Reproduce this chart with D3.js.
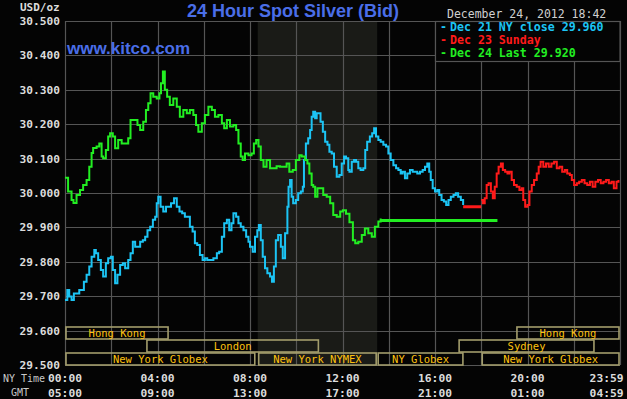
<!DOCTYPE html>
<html>
<head>
<meta charset="utf-8">
<script src="https://cdn.jsdelivr.net/npm/d3@7"></script>
<style>
  html, body { margin: 0; padding: 0; background: #040404; }
  svg { display: block; }
</style>
</head>
<body>
<svg></svg>
<script>

// minutes after 00:00 NY time, price in USD/oz
const dec21 = [
  [0,29.689],[6,29.718],[11,29.699],[17,29.689],[23,29.708],[30,29.708],[37,29.718],[43,29.718],
  [49,29.742],[56,29.762],[63,29.786],[69,29.815],[76,29.834],[80,29.825],[86,29.805],[93,29.776],
  [99,29.757],[106,29.796],[112,29.810],[119,29.815],[124,29.776],[130,29.738],[136,29.762],[143,29.791],
  [150,29.796],[156,29.781],[164,29.805],[170,29.825],[176,29.858],[182,29.844],[188,29.844],[195,29.858],
  [202,29.863],[208,29.873],[214,29.892],[221,29.902],[228,29.922],[234,29.931],[238,29.970],[242,29.989],
  [248,29.960],[255,29.946],[262,29.960],[268,29.960],[275,29.970],[283,29.985],[290,29.960],[297,29.946],
  [304,29.941],[311,29.931],[317,29.931],[324,29.902],[331,29.888],[337,29.854],[343,29.849],[350,29.820],
  [357,29.805],[363,29.810],[369,29.805],[376,29.805],[385,29.810],[394,29.825],[400,29.829],[407,29.873],
  [413,29.912],[420,29.922],[426,29.892],[432,29.912],[437,29.941],[444,29.931],[450,29.912],[456,29.902],
  [463,29.892],[470,29.873],[476,29.858],[480,29.844],[487,29.829],[493,29.873],[499,29.892],[503,29.907],
  [508,29.863],[513,29.815],[519,29.781],[525,29.767],[532,29.757],[537,29.742],[542,29.786],[547,29.863],
  [553,29.878],[560,29.844],[565,29.810],[571,29.883],[577,29.960],[580,30.018],[584,30.038],[588,29.989],
  [592,29.970],[599,29.980],[605,29.999],[612,30.004],[617,30.018],[620,30.096],[625,30.144],[631,30.159],
  [636,30.183],[640,30.222],[644,30.236],[649,30.217],[653,30.232],[658,30.232],[663,30.207],[669,30.178],
  [675,30.149],[681,30.140],[686,30.120],[692,30.115],[698,30.076],[705,30.047],[712,30.052],[718,30.086],
  [724,30.106],[729,30.101],[735,30.067],[738,30.062],[744,30.091],[750,30.096],[755,30.091],[761,30.072],
  [767,30.067],[774,30.072],[779,30.125],[784,30.149],[791,30.164],[797,30.174],[802,30.188],[807,30.164],
  [813,30.154],[819,30.149],[826,30.140],[833,30.135],[839,30.115],[845,30.096],[852,30.081],[859,30.072],
  [865,30.067],[871,30.057],[876,30.062],[882,30.043],[888,30.057],[895,30.067],[902,30.062],[908,30.062],
  [914,30.057],[921,30.062],[928,30.067],[934,30.076],[940,30.086],[945,30.062],[949,30.038],[954,30.014],
  [960,30.004],[966,30.009],[971,29.994],[977,29.980],[983,29.975],[989,29.965],[995,29.980],[1001,29.989],
  [1008,29.994],[1014,29.999],[1020,29.989],[1027,29.980],[1033,29.965]
];

const dec23 = [
  [1080,29.980],[1084,29.970],[1089,29.985],[1094,30.023],[1099,30.028],[1105,30.004],[1110,29.985],[1115,30.018],
  [1120,30.057],[1125,30.076],[1131,30.086],[1136,30.067],[1142,30.062],[1148,30.057],[1153,30.062],[1159,30.038],
  [1165,30.023],[1172,30.018],[1179,30.009],[1185,30.014],[1189,29.980],[1194,29.960],[1200,29.965],[1205,30.004],
  [1211,30.023],[1217,30.038],[1224,30.057],[1229,30.076],[1234,30.091],[1241,30.076],[1248,30.086],[1255,30.076],
  [1262,30.086],[1269,30.091],[1276,30.072],[1283,30.076],[1290,30.062],[1297,30.067],[1303,30.057],[1310,30.052],
  [1315,30.038],[1321,30.023],[1328,30.028],[1334,30.033],[1341,30.038],[1348,30.028],[1355,30.023],[1362,30.033],
  [1369,30.018],[1376,30.033],[1383,30.038],[1390,30.028],[1397,30.033],[1404,30.038],[1411,30.028],[1418,30.033],
  [1424,30.014],[1431,30.033],[1436,30.038]
];

const dec24 = [
  [0,30.044],[8,30.004],[17,29.980],[22,29.971],[30,29.994],[39,30.009],[47,30.023],[56,30.038],
  [63,30.076],[69,30.116],[73,30.131],[82,30.135],[89,30.144],[95,30.106],[99,30.101],[106,30.125],
  [112,30.164],[117,30.174],[124,30.164],[130,30.130],[138,30.154],[147,30.144],[156,30.144],[164,30.159],
  [170,30.212],[179,30.212],[188,30.198],[195,30.183],[203,30.207],[210,30.241],[216,30.261],[222,30.290],
  [229,30.280],[238,30.275],[245,30.290],[249,30.319],[254,30.353],[259,30.300],[265,30.280],[272,30.256],
  [281,30.275],[290,30.251],[298,30.222],[307,30.241],[316,30.232],[324,30.241],[333,30.227],[340,30.198],
  [346,30.178],[355,30.203],[363,30.227],[372,30.251],[381,30.241],[389,30.222],[398,30.227],[407,30.203],
  [413,30.188],[420,30.212],[428,30.193],[437,30.198],[444,30.183],[450,30.144],[456,30.106],[461,30.096],
  [467,30.115],[476,30.110],[484,30.115],[490,30.144],[496,30.154],[502,30.135],[508,30.096],[515,30.076],
  [523,30.096],[532,30.072],[541,30.072],[549,30.078],[558,30.076],[566,30.076],[575,30.086],[582,30.062],
  [591,30.067],[599,30.096],[608,30.110],[614,30.106],[623,30.096],[629,30.086],[634,30.057],[640,30.023],
  [644,30.018],[649,29.989],[655,30.014],[662,30.014],[670,29.994],[679,29.989],[688,29.970],[696,29.936],
  [705,29.931],[714,29.946],[721,29.950],[729,29.940],[738,29.915],[747,29.863],[753,29.854],[761,29.858],
  [770,29.878],[778,29.897],[787,29.883],[796,29.873],[804,29.902],[813,29.917],[819,29.926]
];

const nyClose = 29.960, closeTime = 1033, sundayOpen = 1080;
const lastPrice = 29.920, nowTime = 1122;

const legendLabels = ['Dec 21 NY close 29.960', 'Dec 23 Sunday', 'Dec 24 Last 29.920'];
const legendColors = ['#1cc4f4', '#ff1a1a', '#22ee22'];

const tickMinutes = [0, 240, 480, 720, 960, 1200, 1439];
const nyLabels = ['00:00', '04:00', '08:00', '12:00', '16:00', '20:00', '23:59'];
const gmtLabels = ['05:00', '09:00', '13:00', '17:00', '21:00', '01:00', '04:59'];

const sessions = [
  {name: 'Hong Kong', row: 0, from: 0, to: 270},
  {name: 'Hong Kong', row: 0, from: 1170, to: 1440},
  {name: 'London', row: 1, from: 210, to: 660},
  {name: 'Sydney', row: 1, from: 1020, to: 1375},
  {name: 'New York Globex', row: 2, from: 0, to: 495},
  {name: 'New York NYMEX', row: 2, from: 500, to: 810},
  {name: 'NY Globex', row: 2, from: 810, to: 1035},
  {name: 'New York Globex', row: 2, from: 1080, to: 1440}
];
const nymexHours = [500, 810];

const mono = "'DejaVu Sans Mono', monospace";
const sans = "'Liberation Sans', Arial, sans-serif";

const W = 627, H = 399;
const margin = {top: 21, right: 7, bottom: 34, left: 65},
      width = W - margin.left - margin.right,
      height = H - margin.top - margin.bottom;

const root = d3.select('svg').attr('width', W).attr('height', H);
root.append('rect').attr('width', W).attr('height', H).attr('fill', '#040404');

const svg = root.append('g')
    .attr('transform', `translate(${margin.left},${margin.top})`);

//--------------SCALES---------------------------------------
const x = d3.scaleLinear().domain([0, 1440]).range([0, width]);
const y = d3.scaleLinear().domain([29.5, 30.5]).range([height, 0]);
const rowScale = d3.scaleBand().domain([0, 1, 2]).range([height - 38, height + 1]);

//--------------BACKGROUND / GRID----------------------------
svg.append('rect')
    .attr('x', x(nymexHours[0])).attr('y', 0)
    .attr('width', x(nymexHours[1]) - x(nymexHours[0]))
    .attr('height', height)
    .attr('fill', '#1a1b17');

svg.append('g')
    .selectAll('line')
    .data(d3.range(0, 1441, 120))
    .join('line')
      .attr('x1', d => Math.round(x(d)) + 0.5).attr('x2', d => Math.round(x(d)) + 0.5)
      .attr('y1', 0).attr('y2', height)
      .attr('stroke', '#555').attr('stroke-width', 1.2);

const yTicks = d3.range(0, 11).map(i => 29.5 + i / 10);
svg.append('g')
    .selectAll('line')
    .data(yTicks)
    .join('line')
      .attr('x1', 0).attr('x2', width)
      .attr('y1', d => Math.round(y(d)) + 0.5).attr('y2', d => Math.round(y(d)) + 0.5)
      .attr('stroke', '#555').attr('stroke-width', 1.2);

//--------------AXES-----------------------------------------
const yAxis = d3.axisLeft(y)
    .tickValues(yTicks)
    .tickFormat(d3.format('.3f'))
    .tickSize(0)
    .tickPadding(5);

const axisY = svg.append('g').call(yAxis);
axisY.select('.domain').remove();
axisY.selectAll('text')
    .attr('fill', '#dcdcdc')
    .style('font', `bold 11.2px ${mono}`);

root.append('text')
    .attr('x', 20).attr('y', 11)
    .attr('fill', '#dcdcdc')
    .style('font', `bold 11px ${mono}`)
    .text('USD/oz');

const xLabels = root.append('g');
[nyLabels, gmtLabels].forEach((labels, r) => {
  xLabels.append('g')
    .selectAll('text')
    .data(tickMinutes)
    .join('text')
      .attr('x', (d, i) => margin.left + x(d) + (i === tickMinutes.length - 1 ? 4 : 0))
      .attr('y', r === 0 ? 381.5 : 397)
      .attr('text-anchor', (d, i) => i === tickMinutes.length - 1 ? 'end' : 'middle')
      .attr('fill', '#dcdcdc')
      .style('font', `bold 11.3px ${mono}`)
      .text((d, i) => labels[i]);
});
root.append('text').attr('x', 3).attr('y', 381.5)
    .attr('fill', '#c8c8c8').style('font', `10px ${mono}`).text('NY Time');
root.append('text').attr('x', 11).attr('y', 396)
    .attr('fill', '#c8c8c8').style('font', `10px ${mono}`).text('GMT');

//--------------SESSIONS-------------------------------------
const sess = svg.append('g').selectAll('g').data(sessions).join('g');
sess.append('rect')
    .attr('x', d => x(d.from) + 1)
    .attr('y', d => rowScale(d.row))
    .attr('width', d => x(d.to) - x(d.from) - 2)
    .attr('height', rowScale.bandwidth() - 1)
    .attr('fill', 'none')
    .attr('stroke', '#a39d6c')
    .attr('stroke-width', 1.6);
sess.append('text')
    .attr('x', d => (x(d.from) + x(d.to)) / 2)
    .attr('y', d => rowScale(d.row) + rowScale.bandwidth() - 3)
    .attr('text-anchor', 'middle')
    .attr('fill', '#ffc20e')
    .style('font', `10.5px ${mono}`)
    .text(d => d.name);

//--------------LINES----------------------------------------
const line = d3.line()
    .x(d => x(d[0]))
    .y(d => y(d[1]));

const tickLine = d3.line()
    .x(d => x(d[0]))
    .y(d => y(d[1]))
    .curve(d3.curveStepAfter);

svg.append('path')
    .datum([[closeTime, nyClose], [sundayOpen, nyClose]])
    .attr('fill', 'none').attr('stroke', legendColors[1]).attr('stroke-width', 3)
    .attr('d', line);

svg.append('path')
    .datum([[dec24[dec24.length - 1][0], lastPrice], [nowTime, lastPrice]])
    .attr('fill', 'none').attr('stroke', legendColors[2]).attr('stroke-width', 3)
    .attr('d', line);

[dec21, dec23, dec24].forEach((series, i) => {
  svg.append('path')
      .datum(series)
      .attr('fill', 'none')
      .attr('stroke', legendColors[i])
      .attr('stroke-width', 2)
      .attr('d', tickLine);
});

//--------------LEGEND---------------------------------------
const legend = svg.append('g').attr('transform', `translate(${x(960)},0)`);
legend.append('rect')
    .attr('x', 0.5).attr('y', 0.5)
    .attr('width', width - x(960) - 0.5).attr('height', 40)
    .attr('fill', '#040404')
    .attr('stroke', '#555').attr('stroke-width', 1.2);
const legendRows = legend.selectAll('g')
    .data(legendLabels)
    .join('g')
      .attr('transform', (d, i) => `translate(0,${10 + i * 12.8})`)
      .attr('fill', (d, i) => legendColors[i])
      .style('font', `bold 11.6px ${mono}`);
legendRows.append('text').attr('x', 5).text('-');
legendRows.append('text').attr('x', 15).text(d => d);

//--------------TITLES---------------------------------------
root.append('text')
    .attr('x', 293).attr('y', 17)
    .attr('text-anchor', 'middle')
    .attr('fill', '#4a6ee8')
    .style('font', `bold 18px ${sans}`)
    .text('24 Hour Spot Silver (Bid)');

root.append('text')
    .attr('x', 67).attr('y', 54)
    .attr('fill', '#4a6ee8')
    .style('font', `bold 17px ${sans}`)
    .text('www.kitco.com');

root.append('text')
    .attr('x', 447).attr('y', 18)
    .attr('fill', '#d0d0d0')
    .style('font', `11.5px ${mono}`)
    .text('December 24, 2012 18:42');

</script>
</body>
</html>
